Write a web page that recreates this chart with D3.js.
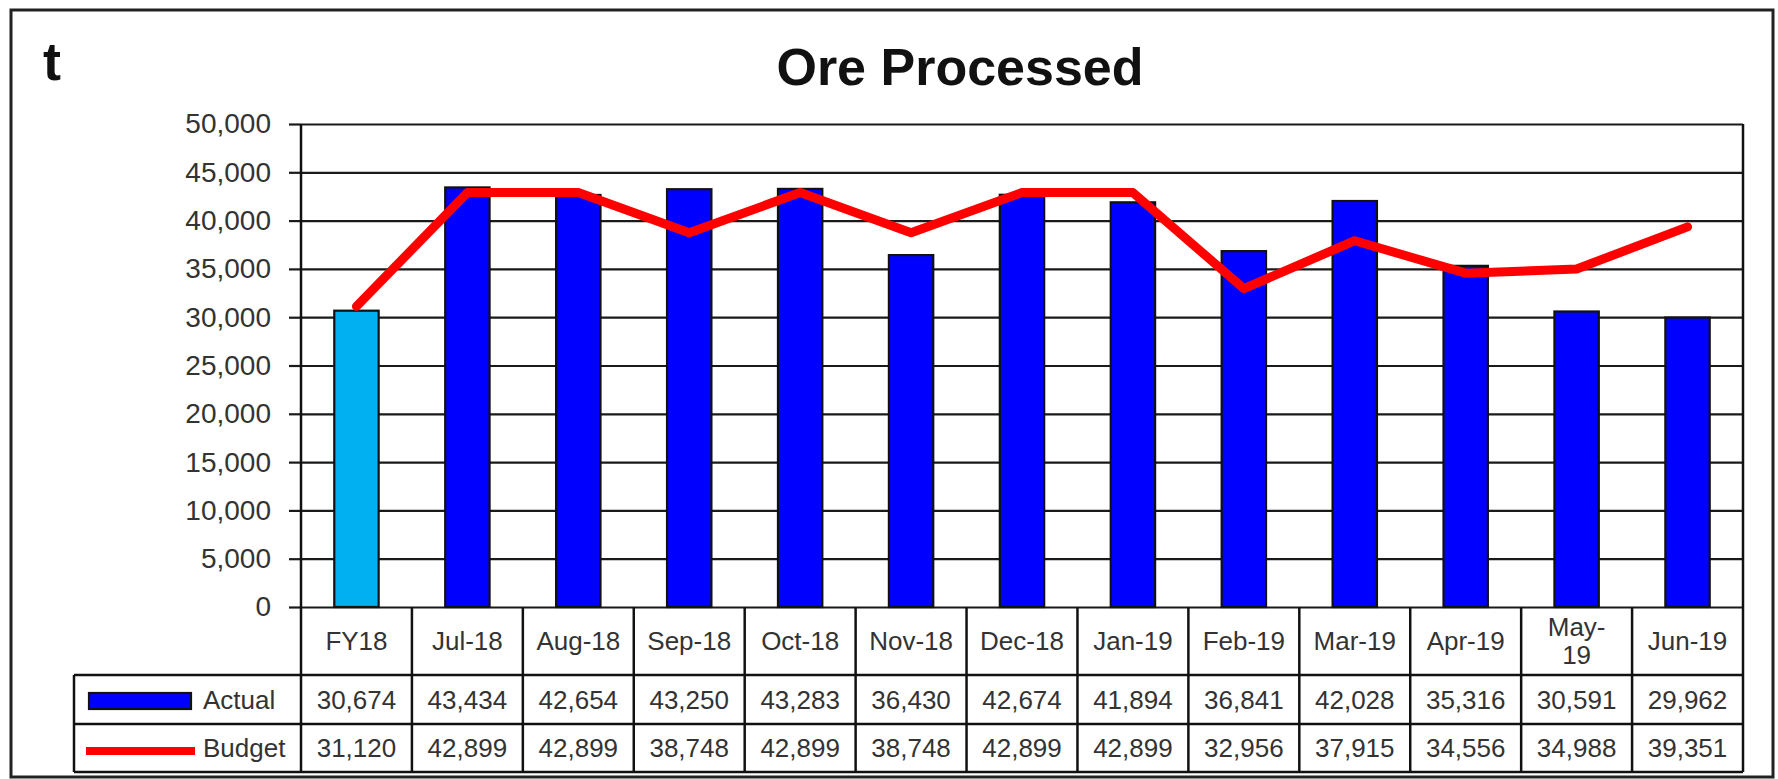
<!DOCTYPE html>
<html>
<head>
<meta charset="utf-8">
<script src="https://cdn.jsdelivr.net/npm/d3@7"></script>
<style>
  html, body { margin: 0; padding: 0; background: #fff; }
  svg { display: block; font-family: "Liberation Sans", Arial, sans-serif; }
</style>
</head>
<body>
<svg id="chart" width="1778" height="779"></svg>
<script>
// ---- data ----
const categories = ["FY18", "Jul-18", "Aug-18", "Sep-18", "Oct-18", "Nov-18", "Dec-18",
                    "Jan-19", "Feb-19", "Mar-19", "Apr-19", "May-19", "Jun-19"];
const actual = [30674, 43434, 42654, 43250, 43283, 36430, 42674, 41894, 36841, 42028, 35316, 30591, 29962];
const budget = [31120, 42899, 42899, 38748, 42899, 38748, 42899, 42899, 32956, 37915, 34556, 34988, 39351];
const yTicks = [0, 5000, 10000, 15000, 20000, 25000, 30000, 35000, 40000, 45000, 50000];
const seriesNames = ["Actual", "Budget"];
const wrappedLabels = { "May-19": ["May-", "19"] };
const title = "Ore Processed";
const unitLabel = "t";

// ---- layout ----
const svg = d3.select("#chart");
const plot = { left: 301, right: 1743, top: 124, bottom: 607 };
const rows = { cat: [607, 675], actual: [675, 724], budget: [724, 772] };
const legendLeft = 74;
const textColor = "#333";

const x = d3.scaleBand().domain(categories).range([plot.left, plot.right]).padding(0);
const y = d3.scaleLinear().domain([0, 50000]).range([plot.bottom, plot.top]);
const barW = x.bandwidth() * 0.4;
const cx = c => x(c) + x.bandwidth() / 2;

// outer frame
svg.append("rect")
  .attr("x", 11).attr("y", 10).attr("width", 1762).attr("height", 767)
  .attr("fill", "#fff").attr("stroke", "#222").attr("stroke-width", 3);

// unit label and title
svg.append("text").attr("x", 43).attr("y", 80)
  .attr("font-size", 54).attr("font-weight", "bold").attr("fill", "#111")
  .text(unitLabel);
svg.append("text").attr("x", 960).attr("y", 85).attr("text-anchor", "middle")
  .attr("font-size", 52).attr("font-weight", "bold").attr("fill", "#111")
  .text(title);

// gridlines + y axis ticks via d3 axis
const yAxis = d3.axisLeft(y).tickValues(yTicks)
  .tickSize(-(plot.right - plot.left))
  .tickFormat("");
const grid = svg.append("g").attr("transform", `translate(${plot.left},0)`).call(yAxis);
grid.select(".domain").remove();
grid.selectAll(".tick line").attr("stroke", "#1a1a1a").attr("stroke-width", 2.2);

const yAxisLbl = d3.axisLeft(y).tickValues(yTicks).tickSize(12).tickPadding(18)
  .tickFormat(d3.format(","));
const ax = svg.append("g").attr("transform", `translate(${plot.left},0)`).call(yAxisLbl);
ax.select(".domain").remove();
ax.selectAll(".tick line").attr("stroke", "#1a1a1a").attr("stroke-width", 2.2);
ax.selectAll(".tick text").attr("font-size", 28).attr("fill", textColor)
  .attr("font-family", "Liberation Sans, Arial, sans-serif");

// bars
svg.append("g").selectAll("rect").data(categories).join("rect")
  .attr("x", d => cx(d) - barW / 2)
  .attr("y", (d, i) => y(actual[i]))
  .attr("width", barW)
  .attr("height", (d, i) => y(0) - y(actual[i]))
  .attr("fill", (d, i) => i === 0 ? "#00B0F0" : "#0000FF")
  .attr("stroke", "#111").attr("stroke-width", 2.2);

// budget line
const line = d3.line().x((d, i) => cx(categories[i])).y(d => y(d));
svg.append("path").datum(budget)
  .attr("d", line).attr("fill", "none")
  .attr("stroke", "#FF0000").attr("stroke-width", 9)
  .attr("stroke-linejoin", "round").attr("stroke-linecap", "round");

// ---- data table ----
const tbl = svg.append("g").attr("stroke", "#111").attr("stroke-width", 2.5);
// plot frame verticals (axis & right border) down through table
tbl.append("line").attr("x1", plot.left).attr("x2", plot.left).attr("y1", plot.top).attr("y2", rows.budget[1]);
tbl.append("line").attr("x1", plot.right).attr("x2", plot.right).attr("y1", plot.top).attr("y2", rows.budget[1]);
// column separators
tbl.selectAll("line.col").data(categories.slice(1)).join("line").attr("class", "col")
  .attr("x1", d => x(d)).attr("x2", d => x(d))
  .attr("y1", rows.cat[0]).attr("y2", rows.budget[1]);
// horizontal lines
[rows.actual[0], rows.budget[0], rows.budget[1]].forEach(yy => {
  tbl.append("line").attr("x1", legendLeft).attr("x2", plot.right).attr("y1", yy).attr("y2", yy);
});
tbl.append("line").attr("x1", legendLeft).attr("x2", legendLeft)
  .attr("y1", rows.actual[0]).attr("y2", rows.budget[1]);

// category labels
const catG = svg.append("g").attr("font-size", 26).attr("fill", textColor).attr("text-anchor", "middle");
categories.forEach(c => {
  const lines = wrappedLabels[c] || [c];
  const mid = (rows.cat[0] + rows.cat[1]) / 2;
  const lh = 28;
  const t = catG.append("text").attr("x", cx(c));
  lines.forEach((ln, k) => {
    t.append("tspan").attr("x", cx(c))
      .attr("y", mid + (k - (lines.length - 1) / 2) * lh)
      .attr("dy", "0.36em").text(ln);
  });
});

// values rows
const fmt = d3.format(",");
const valG = svg.append("g").attr("font-size", 26).attr("fill", textColor).attr("text-anchor", "middle");
[[actual, rows.actual], [budget, rows.budget]].forEach(([vals, r]) => {
  valG.selectAll(null).data(vals).join("text")
    .attr("x", (d, i) => cx(categories[i]))
    .attr("y", (r[0] + r[1]) / 2).attr("dy", "0.36em")
    .text(d => fmt(d));
});

// legend keys
const lg = svg.append("g");
lg.append("rect").attr("x", 89).attr("y", 693).attr("width", 102).attr("height", 16)
  .attr("fill", "#0000FF").attr("stroke", "#111").attr("stroke-width", 2.2);
lg.append("line").attr("x1", 86).attr("x2", 195).attr("y1", 751).attr("y2", 751)
  .attr("stroke", "#FF0000").attr("stroke-width", 8);
lg.selectAll("text").data(seriesNames).join("text")
  .attr("x", 203)
  .attr("y", (d, i) => i === 0 ? (rows.actual[0] + rows.actual[1]) / 2 : (rows.budget[0] + rows.budget[1]) / 2)
  .attr("dy", "0.36em").attr("font-size", 26).attr("fill", textColor)
  .text(d => d);
</script>
</body>
</html>
